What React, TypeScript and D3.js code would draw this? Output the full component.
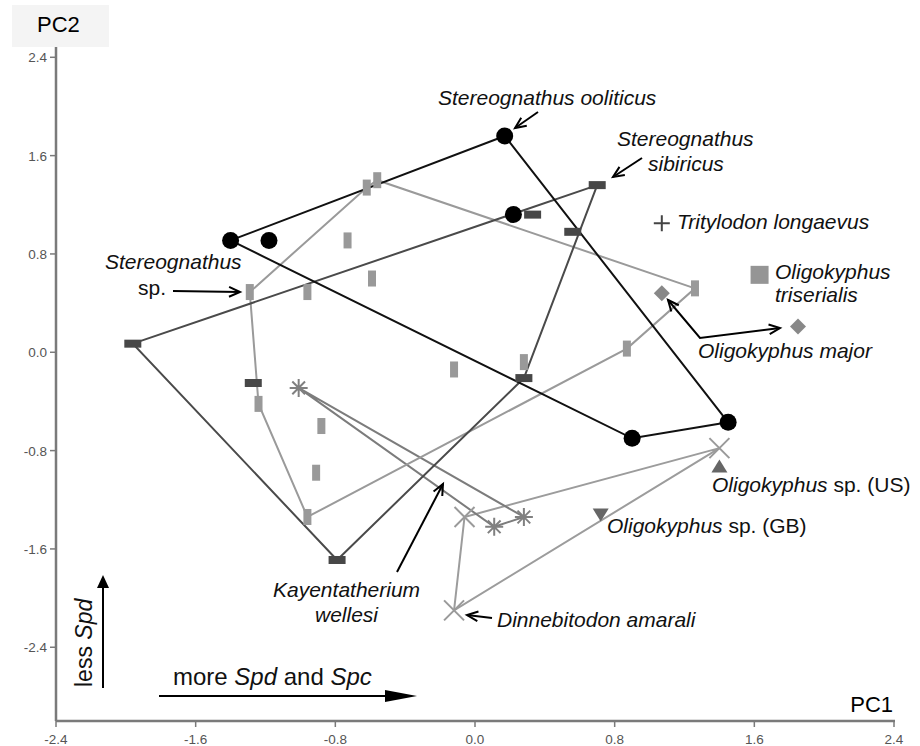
import React from 'react';
import * as d3 from 'd3';

// PCA scores (PC1, PC2)
const stereoX = [-1.40, -1.18, 0.17, 0.22, 0.90, 1.45];
const stereoY = [0.91, 0.91, 1.76, 1.12, -0.70, -0.57];

const darkX = [-1.96, -1.27, -0.79, 0.28, 0.33, 0.56, 0.70];
const darkY = [0.07, -0.25, -1.69, -0.21, 1.12, 0.98, 1.36];

const lightX = [-1.29, -1.24, -0.96, -0.96, -0.73, -0.62, -0.56, -0.59, -0.88, -0.91, -0.12, 0.28, 0.87, 1.26];
const lightY = [0.49, -0.42, -1.34, 0.49, 0.91, 1.34, 1.40, 0.60, -0.60, -0.98, -0.14, -0.08, 0.03, 0.52];

const kayX = [-1.01, 0.11, 0.28];
const kayY = [-0.29, -1.42, -1.34];

const dinX = [-0.06, -0.12, 1.40];
const dinY = [-1.34, -2.10, -0.78];

const tritylodon = [1.07, 1.05];
const triserialis = [1.63, 0.63];
const majorX = [1.07, 1.85];
const majorY = [0.48, 0.21];
const spUS = [1.40, -0.93];
const spGB = [0.72, -1.32];

const xTicks = [-2.4, -1.6, -0.8, 0.0, 0.8, 1.6, 2.4];
const yTicks = [-2.4, -1.6, -0.8, 0.0, 0.8, 1.6, 2.4];

const W = 920;
const H = 746;
const FONT = "'Liberation Sans', Arial, sans-serif";

const x = d3.scaleLinear().domain([-2.4, 2.4]).range([56, 894]);
const y = d3.scaleLinear().domain([-3.0, 2.5]).range([721, 45]);

const pts = (xs: number[], ys: number[]) => xs.map((v, i) => [x(v), y(ys[i])] as [number, number]);

const hullPath = (xs: number[], ys: number[]) => {
  const h = d3.polygonHull(pts(xs, ys));
  return h ? d3.line()(h) + 'Z' : '';
};

// open arrowhead at (x2,y2)
const arrowHead = (x1: number, y1: number, x2: number, y2: number, len = 12, ang = 0.42) => {
  const a = Math.atan2(y2 - y1, x2 - x1);
  const p1 = [x2 - len * Math.cos(a - ang), y2 - len * Math.sin(a - ang)];
  const p2 = [x2 - len * Math.cos(a + ang), y2 - len * Math.sin(a + ang)];
  return `M${p1[0]},${p1[1]}L${x2},${y2}L${p2[0]},${p2[1]}`;
};

const Arrow = ({ x1, y1, x2, y2 }: any) => (
  <g stroke="#000" strokeWidth={2} fill="none">
    <line x1={x1} y1={y1} x2={x2} y2={y2} />
    <path d={arrowHead(x1, y1, x2, y2)} />
  </g>
);

const star = (cx: number, cy: number, r: number) => {
  let d = '';
  for (let k = 0; k < 4; k++) {
    const a = (k * Math.PI) / 4;
    d += `M${cx - r * Math.cos(a)},${cy - r * Math.sin(a)}L${cx + r * Math.cos(a)},${cy + r * Math.sin(a)}`;
  }
  return d;
};

export default function App() {
  const it = { fontStyle: 'italic' as const };
  return (
    <svg width={W} height={H} style={{ position: 'absolute', left: 0, top: 0, background: '#fff' }} fontFamily={FONT}>
      <rect width={W} height={H} fill="#fff" />

      {/* axes */}
      <g stroke="#7a7a7a" strokeWidth={2.5}>
        <line x1={x(-2.4)} y1={y(-3.0)} x2={x(2.4) + 1} y2={y(-3.0)} />
        <line x1={x(-2.4)} y1={y(-3.0)} x2={x(-2.4)} y2={47} />
      </g>
      <g stroke="#7a7a7a" strokeWidth={1.5}>
        {xTicks.map((t) => (
          <line key={'xt' + t} x1={x(t)} x2={x(t)} y1={y(-3.0)} y2={y(-3.0) + 6} />
        ))}
        {yTicks.map((t) => (
          <line key={'yt' + t} x1={x(-2.4) - 6} x2={x(-2.4)} y1={y(t)} y2={y(t)} />
        ))}
      </g>
      <g fill="#555" fontSize={13.5}>
        {xTicks.map((t) => (
          <text key={'xl' + t} x={x(t)} y={744} textAnchor="middle">{t.toFixed(1)}</text>
        ))}
        {yTicks.map((t) => (
          <text key={'yl' + t} x={47} y={y(t) + 5} textAnchor="end">{t.toFixed(1)}</text>
        ))}
      </g>

      <rect x={12} y={5} width={97} height={42} fill="#f4f4f4" />
      <text x={37} y={32} fontSize={22}>PC2</text>
      <text x={893} y={712} fontSize={22} textAnchor="end">PC1</text>

      {/* convex hulls */}
      <g fill="none" strokeWidth={2}>
        <path d={hullPath(dinX, dinY)} stroke="#9c9c9c" />
        <path d={hullPath(kayX, kayY)} stroke="#7c7c7c" />
        <path d={hullPath(lightX, lightY)} stroke="#9a9a9a" />
        <path d={hullPath(darkX, darkY)} stroke="#4a4a4a" />
        <path d={hullPath(stereoX, stereoY)} stroke="#111" />
      </g>

      {/* markers */}
      <g stroke="#9a9a9a" strokeWidth={2}>
        {pts(dinX, dinY).map(([px, py], i) => (
          <path key={'d' + i} d={`M${px - 10},${py - 10}L${px + 10},${py + 10}M${px - 10},${py + 10}L${px + 10},${py - 10}`} />
        ))}
      </g>
      <g stroke="#808080" strokeWidth={2}>
        {pts(kayX, kayY).map(([px, py], i) => (
          <path key={'k' + i} d={star(px, py, 9)} />
        ))}
      </g>
      <g fill="#999">
        {pts(lightX, lightY).map(([px, py], i) => (
          <rect key={'l' + i} x={px - 4} y={py - 8} width={8} height={16} />
        ))}
      </g>
      <g fill="#474747">
        {pts(darkX, darkY).map(([px, py], i) => (
          <rect key={'r' + i} x={px - 8.5} y={py - 4} width={17} height={8} />
        ))}
      </g>
      <g fill="#000">
        {pts(stereoX, stereoY).map(([px, py], i) => (
          <circle key={'c' + i} cx={px} cy={py} r={8.5} />
        ))}
      </g>
      <path
        d={`M${x(tritylodon[0]) - 8},${y(tritylodon[1])}h16M${x(tritylodon[0])},${y(tritylodon[1]) - 8}v16`}
        stroke="#444"
        strokeWidth={2}
      />
      <rect x={x(triserialis[0]) - 9} y={y(triserialis[1]) - 9} width={18} height={18} fill="#959595" />
      {pts(majorX, majorY).map(([px, py], i) => (
        <path key={'m' + i} d={`M${px},${py - 8}L${px + 8},${py}L${px},${py + 8}L${px - 8},${py}Z`} fill="#888" />
      ))}
      <path
        d={`M${x(spUS[0])},${y(spUS[1]) - 7}L${x(spUS[0]) + 8},${y(spUS[1]) + 6}L${x(spUS[0]) - 8},${y(spUS[1]) + 6}Z`}
        fill="#666"
      />
      <path
        d={`M${x(spGB[0])},${y(spGB[1]) + 7}L${x(spGB[0]) + 8},${y(spGB[1]) - 6}L${x(spGB[0]) - 8},${y(spGB[1]) - 6}Z`}
        fill="#666"
      />

      {/* labels */}
      <g fontSize={21} fill="#111">
        <text x={438} y={105} {...it}>Stereognathus ooliticus</text>
        <text x={617} y={146} {...it}>Stereognathus</text>
        <text x={648} y={171} {...it}>sibiricus</text>
        <text x={677} y={229} {...it}>Tritylodon longaevus</text>
        <text x={775} y={279} {...it}>Oligokyphus</text>
        <text x={775} y={302} {...it}>triserialis</text>
        <text x={698} y={358} {...it}>Oligokyphus major</text>
        <text x={105} y={269} {...it}>Stereognathus</text>
        <text x={138} y={295}>sp.</text>
        <text x={273} y={597} {...it}>Kayentatherium</text>
        <text x={315} y={622} {...it}>wellesi</text>
        <text x={497} y={627} {...it}>Dinnebitodon amarali</text>
        <text x={712} y={492}>
          <tspan {...it}>Oligokyphus</tspan> sp. (US)
        </text>
        <text x={607} y={533}>
          <tspan {...it}>Oligokyphus</tspan> sp. (GB)
        </text>
      </g>

      <Arrow x1={538} y1={112} x2={515} y2={128} />
      <Arrow x1={642} y1={158} x2={613} y2={177} />
      <Arrow x1={173} y1={291} x2={240} y2={292} />
      <Arrow x1={397} y1={572} x2={443} y2={484} />
      <Arrow x1={492} y1={618} x2={467} y2={615} />
      <g stroke="#000" strokeWidth={2} fill="none">
        <path d="M668,300L700,338L780,328" />
        <path d={arrowHead(700, 338, 668, 300)} />
        <path d={arrowHead(700, 338, 780, 328)} />
      </g>

      {/* direction arrows */}
      <text x={173} y={685} fontSize={24} fill="#111">
        more <tspan {...it}>Spd</tspan> and <tspan {...it}>Spc</tspan>
      </text>
      <line x1={159} y1={696} x2={388} y2={696} stroke="#000" strokeWidth={2} />
      <path d="M385,690L417,696L385,702Z" fill="#000" />
      <text transform="translate(92,687) rotate(-90)" fontSize={23} fill="#111">
        less <tspan {...it}>Spd</tspan>
      </text>
      <line x1={103} y1={688} x2={103} y2={585} stroke="#000" strokeWidth={2} />
      <path d="M97,588L103,575L109,588Z" fill="#000" />
    </svg>
  );
}
